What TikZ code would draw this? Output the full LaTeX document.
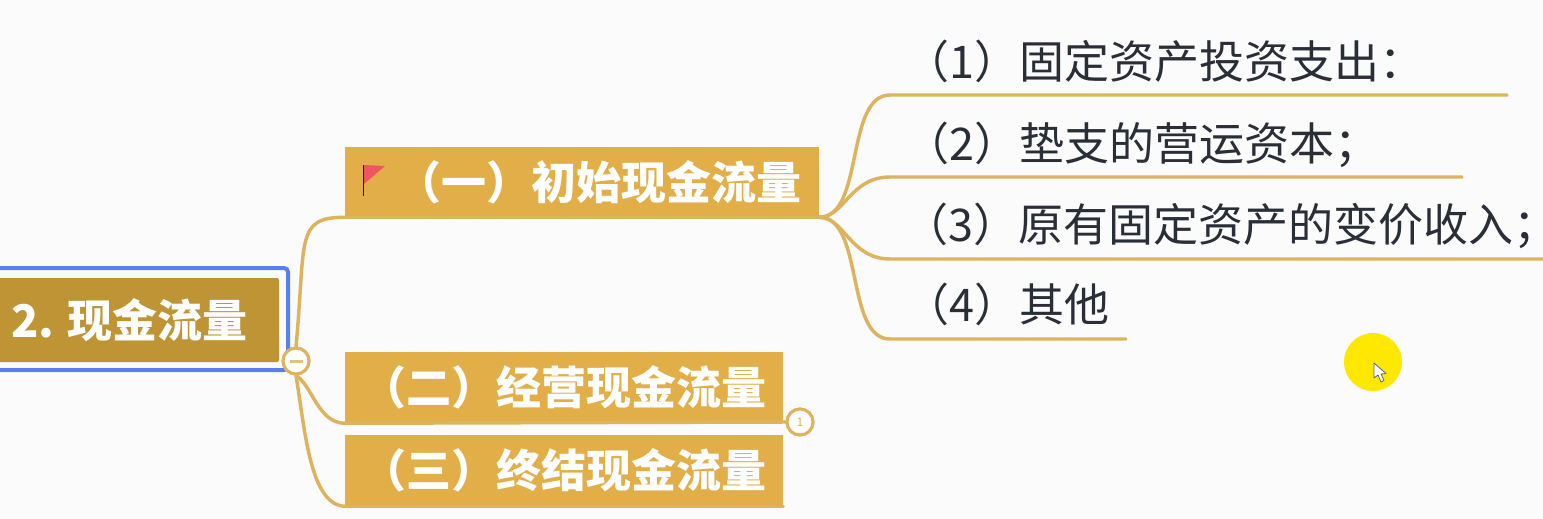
\documentclass[tikz,border=0pt]{standalone}
\usepackage{fontspec}
\setmainfont{Noto Sans CJK SC}
\definecolor{bgc}{HTML}{FBFBFC}
\definecolor{boxc}{HTML}{E2AE48}
\definecolor{rootc}{HTML}{BF9435}
\definecolor{linec}{HTML}{DDB35E}
\definecolor{selc}{HTML}{5B7FEF}
\definecolor{txtc}{HTML}{2A2E36}
\definecolor{flagc}{HTML}{EE5560}
\definecolor{spot}{HTML}{FFE800}
\tikzset{
  x=0.75pt,y=-0.75pt,
  boxnode/.style={fill=boxc,text=white,font=\bfseries\fontsize{33.75}{38}\selectfont,inner sep=0pt,minimum height=52.5pt},
  rootnode/.style={fill=rootc,rounded corners=1.5pt,text=white,font=\bfseries\fontsize{33.75}{38}\selectfont,inner sep=0pt,minimum width=224.25pt,minimum height=63pt},
  selnode/.style={draw=selc,line width=3pt,rounded corners=3pt,minimum width=231pt,minimum height=76.5pt,inner sep=0pt},
  item/.style={anchor=base west,text=txtc,font=\fontsize{33.75}{38}\selectfont,inner sep=0pt},
  conn/.style={draw=linec,line width=2.6pt,line cap=round},
  knob/.style={circle,draw=linec,fill=white,line width=2.25pt,minimum size=19.5pt,inner sep=0pt},
}
\begin{document}
\begin{tikzpicture}
\fill[bgc] (0,0) rectangle (1543,518);
\useasboundingbox (0,0) rectangle (1543,518);
% selection and boxes
\node[selnode] (sel) at (134,319) {};
\node[rootnode] (root) at (129.5,320) {2. 现金流量};
\node[boxnode,minimum width=355.5pt] (b1) at (582,182) {\hspace*{25pt}（一）初始现金流量};
\node[boxnode,minimum width=328.5pt] (b2) at (564,387) {（二）经营现金流量};
\node[boxnode,minimum width=328.5pt,minimum height=53.25pt] (b3) at (564,470.5) {（三）终结现金流量};
% free ends of the underlines
\coordinate (e1) at (1507,95);
\coordinate (e2) at (1462,177);
\coordinate (e3) at (1543,259);
\coordinate (e4) at (1126,339);
% items
\node[item] (t1) at (904,78) {（1）固定资产投资支出：};
\node[item] (t2) at (904,160) {（2）垫支的营运资本；};
\node[item] (t3) at (903,241) {（3）原有固定资产的变价收入{\addfontfeature{RawFeature=+halt}；}};
\node[item] (t4) at (904,321) {（4）其他};
% knobs
\node[knob] (minus) at (296,361) {};
\node[knob] (one) at (800,422) {};
% connectors
\draw[conn] (b1.south west) .. controls +(-50,0) and (306,240) .. (minus.north);
\draw[conn] (b2.south west) +(0,1) .. controls (318,423) and (312,385) .. (minus.south);
\draw[conn] (b3.south west) .. controls (310,505) and (305,430) .. (minus.south);
\draw[conn] (b1.south west) -- (b1.south east);
\draw[conn] (b2.south west) +(0,1) -- (one.west);
\draw[conn] (b3.south west) -- (b3.south east);
\draw[conn] (b1.south east) .. controls +(45,0) and (845,95) .. (890,95) -- (e1);
\draw[conn] (b1.south east) .. controls +(25,0) and (850,177) .. (890,177) -- (e2);
\draw[conn] (b1.south east) .. controls +(25,0) and (850,259) .. (890,259) -- (e3);
\draw[conn] (b1.south east) .. controls +(45,0) and (845,339) .. (890,339) -- (e4);
\node[knob] at (minus) {\tikz[baseline]\fill[linec!80!white] (0,0) rectangle (13,-3);};
\node[knob] at (one) {\textcolor{linec}{\fontsize{9}{9}\selectfont 1}};
% flag
\fill[flagc] (364,165) -- (385,166) -- (364,184) -- cycle;
\draw[black!70!red,line width=1pt] (363.5,165) -- (363.5,196);
% pointer highlight
\fill[spot] (1373,362) circle[radius=29];
\draw[fill=white,draw=black!60,line width=.6pt,line join=round] (1374,363) -- (1374,378) -- (1378,375) -- (1381,382) -- (1384,380.5) -- (1381,374) -- (1386,373.5) -- cycle;
\end{tikzpicture}
\end{document}
